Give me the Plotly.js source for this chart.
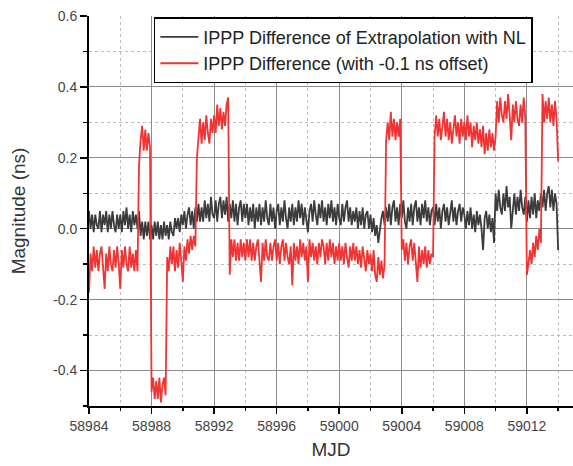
<!DOCTYPE html>
<html>
<head>
<meta charset="utf-8">
<script src="https://cdn.plot.ly/plotly-3.0.1.min.js"></script>
<style>
  html, body { margin: 0; padding: 0; background: #fff; }
  #chart { width: 573px; height: 466px; }
</style>
</head>
<body>
<div id="chart"></div>
<script>
// Sampling of the series: start MJD and step (days)
const mjdStart = 58984;
const mjdStep = 0.1;

// Series names
const seriesNames = [
  "IPPP Difference of Extrapolation with NL",
  "IPPP Difference (with -0.1 ns offset)"
];

// Black series: IPPP difference of extrapolation with NL (ns), 10 samples per day
const nlDiff = [
  0.05, 0.00, 0.04, -0.01, 0.04, 0.01, 0.00, 0.05, -0.01, 0.04,  // 58984
  0.01, 0.05, -0.01, 0.04, 0.00, 0.05, 0.01, -0.01, 0.04, 0.00,  // 58985
  0.04, -0.01, 0.05, 0.01, 0.06, 0.00, 0.04, -0.01, 0.05, 0.01,  // 58986
  0.04, 0.00, 0.05, -0.02, 0.02, -0.03, 0.02, -0.02, 0.02, -0.03,// 58987
  0.01, -0.03, 0.02, -0.02, 0.02, -0.03, 0.01, -0.03, 0.02, -0.02,// 58988
  0.01, -0.03, 0.02, -0.01, -0.02, 0.03, 0.00, 0.03, -0.01, 0.04,// 58989
  0.01, 0.05, 0.00, 0.04, 0.06, 0.01, 0.05, 0.00, 0.06, 0.02,    // 58990
  0.07, 0.02, 0.06, 0.02, 0.08, 0.03, 0.07, 0.02, 0.09, 0.04,    // 58991
  0.03, 0.08, 0.02, 0.07, 0.09, 0.03, 0.08, 0.04, 0.09, 0.02,    // 58992
  0.07, 0.03, 0.08, 0.02, 0.07, 0.01, 0.06, 0.08, 0.02, 0.07,    // 58993
  0.03, 0.07, 0.01, 0.06, 0.02, 0.07, 0.00, 0.06, 0.02, 0.07,    // 58994
  0.01, 0.06, 0.02, 0.08, 0.03, 0.01, 0.07, 0.02, 0.06, 0.00,    // 58995
  0.05, 0.07, 0.01, 0.06, 0.02, 0.08, 0.03, 0.00, 0.06, 0.02,    // 58996
  0.07, 0.01, 0.06, 0.02, 0.08, 0.03, 0.07, 0.01, 0.06, 0.02,    // 58997
  -0.01, 0.05, 0.07, 0.02, 0.08, 0.04, 0.01, 0.07, 0.03, 0.08,   // 58998
  0.02, 0.06, 0.01, 0.07, 0.03, 0.08, 0.02, 0.06, 0.01, 0.07,    // 58999
  0.03, 0.01, 0.07, 0.02, 0.06, 0.08, 0.02, 0.06, 0.01, 0.05,    // 59000
  0.02, 0.06, 0.00, 0.05, 0.01, 0.06, 0.00, 0.04, 0.05, 0.00,    // 59001
  0.04, -0.01, 0.03, -0.02, 0.01, -0.04, 0.00, 0.03, 0.05, 0.01, // 59002
  0.06, 0.02, 0.07, 0.01, 0.06, 0.08, 0.02, 0.06, 0.01, 0.07,    // 59003
  0.03, 0.08, 0.02, 0.00, 0.06, 0.02, 0.07, 0.01, 0.06, 0.08,    // 59004
  0.02, 0.06, 0.01, 0.07, 0.03, 0.08, 0.02, 0.06, 0.01, 0.05,    // 59005
  0.06, 0.01, 0.07, 0.02, 0.06, 0.00, 0.05, 0.07, 0.02, 0.06,    // 59006
  0.01, 0.05, 0.08, 0.02, 0.06, 0.01, 0.05, 0.07, 0.02, 0.06,    // 59007
  0.04, 0.00, 0.05, 0.01, 0.06, 0.00, 0.04, -0.01, 0.05, 0.01,   // 59008
  0.04, 0.00, -0.06, 0.03, 0.05, 0.00, 0.04, -0.01, 0.03, -0.04, // 59009
  0.10, 0.05, 0.11, 0.06, 0.04, 0.10, 0.05, 0.12, 0.06, 0.09,    // 59010
  0.00, 0.05, 0.10, 0.04, 0.09, 0.05, 0.11, 0.06, 0.04, 0.09,    // 59011
  0.02, 0.08, 0.03, 0.09, 0.04, 0.10, 0.03, 0.08, 0.05, 0.10,    // 59012
  0.06, 0.11, 0.05, 0.10, 0.12, 0.06, 0.11, 0.05, 0.10, 0.07,    // 59013
  -0.06                                                          // 59014
];

// Red series: IPPP difference with -0.1 ns offset (ns), 10 samples per day
const ipppDiff = [
  -0.18, -0.07, -0.12, -0.05, -0.11, -0.06, -0.12, -0.07, -0.05, -0.11, // 58984
  -0.17, -0.07, -0.12, -0.05, -0.10, -0.12, -0.06, -0.11, -0.05, -0.10, // 58985
  -0.17, -0.06, -0.11, -0.05, -0.10, -0.12, -0.05, -0.11, -0.07, -0.12, // 58986
  -0.06, -0.12, 0.18, 0.25, 0.29, 0.22, 0.28, 0.22, 0.27, 0.23,         // 58987
  -0.46, -0.42, -0.48, -0.43, -0.48, -0.42, -0.49, -0.44, -0.42, -0.47, // 58988
  -0.08, -0.12, -0.05, -0.10, -0.05, -0.12, -0.06, -0.11, -0.04, -0.09, // 58989
  -0.15, -0.05, -0.09, -0.03, -0.07, -0.02, -0.06, -0.02, -0.05, 0.20,  // 58990
  0.27, 0.31, 0.24, 0.30, 0.25, 0.32, 0.27, 0.24, 0.31, 0.27,           // 58991
  0.32, 0.27, 0.35, 0.29, 0.34, 0.28, 0.33, 0.29, 0.35, 0.37,           // 58992
  -0.13, -0.03, -0.08, -0.03, -0.09, -0.04, -0.09, -0.03, -0.08, -0.04, // 58993
  -0.09, -0.03, -0.08, -0.03, -0.09, -0.04, -0.09, -0.05, -0.03, -0.09, // 58994
  -0.15, -0.04, -0.09, -0.03, -0.08, -0.09, -0.04, -0.09, -0.05, -0.03, // 58995
  -0.09, -0.04, -0.10, -0.05, -0.03, -0.09, -0.04, -0.08, -0.10, -0.05, // 58996
  -0.16, -0.04, -0.09, -0.05, -0.10, -0.03, -0.08, -0.04, -0.09, -0.05, // 58997
  -0.15, -0.03, -0.08, -0.04, -0.09, -0.05, -0.10, -0.04, -0.08, -0.03, // 58998
  -0.05, -0.10, -0.04, -0.09, -0.03, -0.08, -0.04, -0.10, -0.05, -0.09, // 58999
  -0.04, -0.09, -0.05, -0.10, -0.04, -0.08, -0.11, -0.05, -0.09, -0.04, // 59000
  -0.09, -0.05, -0.10, -0.06, -0.11, -0.05, -0.09, -0.12, -0.06, -0.10, // 59001
  -0.07, -0.12, -0.06, -0.13, -0.15, -0.08, -0.13, -0.09, -0.14, -0.10, // 59002
  0.25, 0.30, 0.25, 0.33, 0.26, 0.31, 0.25, 0.30, 0.26, 0.31,           // 59003
  -0.06, -0.03, -0.09, -0.04, -0.10, -0.05, -0.03, -0.09, -0.04, -0.10, // 59004
  -0.15, -0.05, -0.11, -0.06, -0.10, -0.05, -0.11, -0.06, -0.10, -0.07, // 59005
  -0.08, 0.26, 0.32, 0.26, 0.31, 0.25, 0.30, 0.33, 0.26, 0.31,          // 59006
  0.25, 0.30, 0.24, 0.29, 0.32, 0.26, 0.30, 0.24, 0.31, 0.26,           // 59007
  0.30, 0.25, 0.32, 0.26, 0.30, 0.23, 0.29, 0.25, 0.30, 0.24,           // 59008
  0.28, 0.23, 0.29, 0.21, 0.27, 0.22, 0.28, 0.23, 0.27, 0.22,           // 59009
  0.26, 0.36, 0.30, 0.37, 0.32, 0.30, 0.36, 0.31, 0.38, 0.32,           // 59010
  0.25, 0.35, 0.30, 0.36, 0.31, 0.29, 0.35, 0.30, 0.37, 0.31,           // 59011
  -0.13, -0.10, -0.06, -0.10, -0.04, -0.08, -0.02, -0.06, 0.00, -0.04,  // 59012
  0.38, 0.30, 0.36, 0.31, 0.37, 0.30, 0.35, 0.29, 0.36, 0.31,           // 59013
  0.19                                                                  // 59014
];

// Axis ticks
const xTickVals = [58984, 58988, 58992, 58996, 59000, 59004, 59008, 59012];
const xTickText = ["58984", "58988", "58992", "58996", "59000", "59004", "59008", "59012"];
const yTickVals = [-0.4, -0.2, 0.0, 0.2, 0.4, 0.6];
const yTickText = ["-0.4", "-0.2", "0.0", "0.2", "0.4", "0.6"];

const mjd = nlDiff.map((_, i) => +(mjdStart + i * mjdStep).toFixed(1));

const FONT = "Liberation Sans, Arial, sans-serif";

const traces = [
  {
    x: mjd, y: nlDiff, type: "scatter", mode: "lines",
    name: seriesNames[0],
    line: { color: "#3c3c3c", width: 1.8 }
  },
  {
    x: mjd, y: ipppDiff, type: "scatter", mode: "lines",
    name: seriesNames[1],
    line: { color: "#f03434", width: 1.8 }
  }
];

const layout = {
  width: 573, height: 466,
  margin: { l: 89, r: 0, t: 16, b: 60 },
  paper_bgcolor: "#fff", plot_bgcolor: "#fff",
  font: { family: FONT, color: "#333" },
  showlegend: true,
  legend: {
    x: 0.134, y: 0.997, xanchor: "left", yanchor: "top",
    bgcolor: "#fff", bordercolor: "#000", borderwidth: 1.5,
    font: { family: FONT, size: 18, color: "#222" },
    tracegroupgap: 0, itemwidth: 38
  },
  xaxis: {
    range: [58984, 59014.95],
    tickvals: xTickVals, ticktext: xTickText,
    ticks: "outside", ticklen: 6, tickwidth: 1.5, tickcolor: "#000",
    showline: true, linecolor: "#000", linewidth: 2,
    showgrid: true, gridcolor: "#8c8c8c", gridwidth: 1,
    zeroline: false,
    tickfont: { family: FONT, size: 14, color: "#444" },
    minor: { dtick: 2, tick0: 58984, ticks: "outside", ticklen: 3, tickcolor: "#000",
             showgrid: true, gridcolor: "#bdbdbd", griddash: "dot", gridwidth: 1 },
    title: { text: "MJD", font: { family: FONT, size: 19, color: "#333" }, standoff: 10 }
  },
  yaxis: {
    range: [-0.5, 0.6],
    tickvals: yTickVals, ticktext: yTickText,
    ticks: "outside", ticklen: 7, tickwidth: 1.5, tickcolor: "#000",
    showline: true, linecolor: "#000", linewidth: 2,
    showgrid: true, gridcolor: "#8c8c8c", gridwidth: 1,
    zeroline: false,
    tickfont: { family: FONT, size: 14, color: "#444" },
    minor: { dtick: 0.1, tick0: 0, ticks: "outside", ticklen: 4, tickcolor: "#000",
             showgrid: true, gridcolor: "#bdbdbd", griddash: "dot", gridwidth: 1 },
    title: { text: "Magnitude (ns)", font: { family: FONT, size: 19, color: "#333" }, standoff: 22 }
  }
};

Plotly.newPlot("chart", traces, layout, { displayModeBar: false, staticPlot: true });
</script>
</body>
</html>
